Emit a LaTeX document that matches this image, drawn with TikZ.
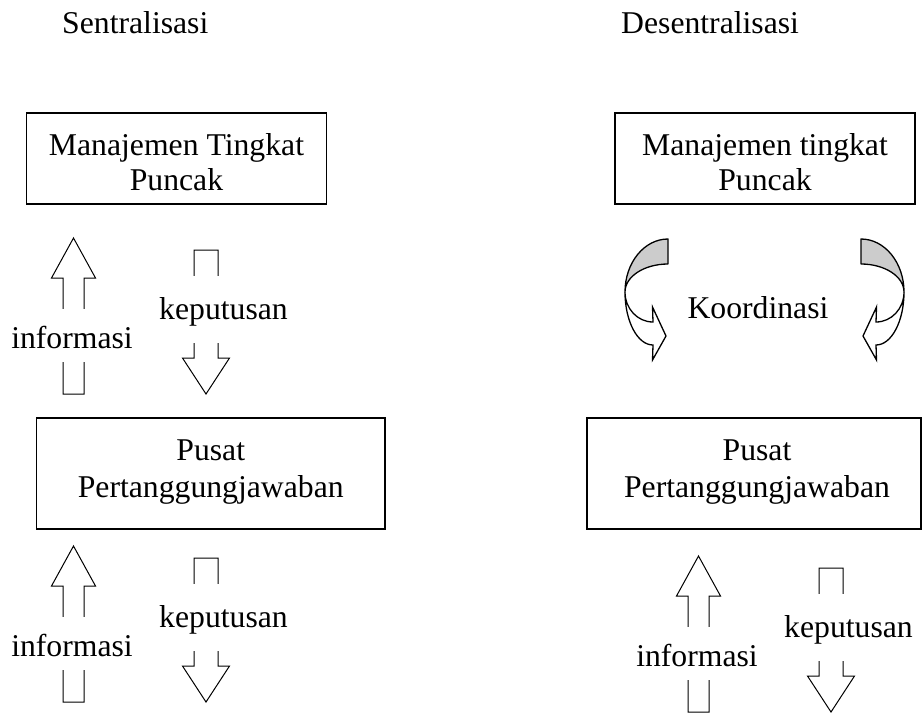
\documentclass[tikz,border=0pt]{standalone}
\usepackage{fontspec}
\setmainfont{Liberation Serif}

% twisted band arrow (back face shaded, front face with head)
\newcommand\bentband{%
  \draw[bandback] (668,239) .. controls (644.25,239) and (625,262.7) .. (625,292)
     .. controls (625,276.5) and (644.25,264) .. (668,264) -- cycle;
  \draw[bandfront] (625,292) .. controls (625,308.6) and (637.5,322) .. (653,322)
     -- (652.5,307) -- (666,336) -- (652.5,360) -- (653,345)
     .. controls (637.5,345) and (625,321.3) .. (625,292) -- cycle;
}

\begin{document}
\begin{tikzpicture}[x=1pt,y=-1pt,
  every node/.style={font=\fontsize{31.7}{37}\selectfont},
  box/.style={draw, line width=1.3pt, inner sep=0pt},
  lbl/.style={anchor=base, inner sep=0pt},
  blockarrow/.style={draw, line width=1pt, fill=white, line join=miter},
  cover/.style={anchor=base, inner sep=0pt, fill=white},
  bandback/.style={draw, line width=1.3pt, fill=gray!40, line join=round},
  bandfront/.style={draw, line width=1.3pt, fill=white, line join=miter},
  pics/flowpair/.style={code={
    \draw[blockarrow] (63,394) -- (63,278) -- (51.5,278) -- (73.5,238)
       -- (95.5,278) -- (84,278) -- (84,394) -- cycle;
    \node[cover, text height=39pt, text depth=14pt] (-info) at (72,348) {informasi};
    \draw[blockarrow] (194,250) -- (218,250) -- (218,358) -- (229.5,358)
       -- (206,394) -- (182.5,358) -- (194,358) -- cycle;
    \node[cover, text height=43pt, text depth=24pt] (-dec) at (223.5,319) {keputusan};
  }}]
\useasboundingbox (0,0) rectangle (923,713);

% headings
\node[lbl, anchor=base west] (tSen) at (62,33) {Sentralisasi};
\node[lbl, anchor=base west] (tDes) at (621,33) {Desentralisasi};

% top management boxes
\node[box, minimum width=300pt, minimum height=91pt] (topL) at (176.5,158.5) {};
\node[lbl] (topLa) at (176.5,155) {Manajemen Tingkat};
\node[lbl] (topLb) at (176.5,190) {Puncak};

\node[box, minimum width=300pt, minimum height=91pt] (topR) at (765,158.5) {};
\node[lbl] (topRa) at (765,155) {Manajemen tingkat};
\node[lbl] (topRb) at (765,190) {Puncak};

% responsibility centre boxes
\node[box, minimum width=348.5pt, minimum height=111pt] (midL) at (210.75,473.5) {};
\node[lbl] (midLa) at (210.75,460) {Pusat};
\node[lbl] (midLb) at (210.75,497) {Pertanggungjawaban};

\node[box, minimum width=334pt, minimum height=111pt] (midR) at (754,473.5) {};
\node[lbl] (midRa) at (757,460) {Pusat};
\node[lbl] (midRb) at (757,497) {Pertanggungjawaban};

% information / decision flows
\pic (upperL) at (0,0) {flowpair};
\pic (lowerL) at (0,308) {flowpair};
\pic (lowerR) at (625,318) {flowpair};

% coordination arrows
\bentband
\begin{scope}[xshift=1529pt, xscale=-1]
  \bentband
\end{scope}
\node[lbl] (coord) at (758,318) {Koordinasi};
\end{tikzpicture}
\end{document}
